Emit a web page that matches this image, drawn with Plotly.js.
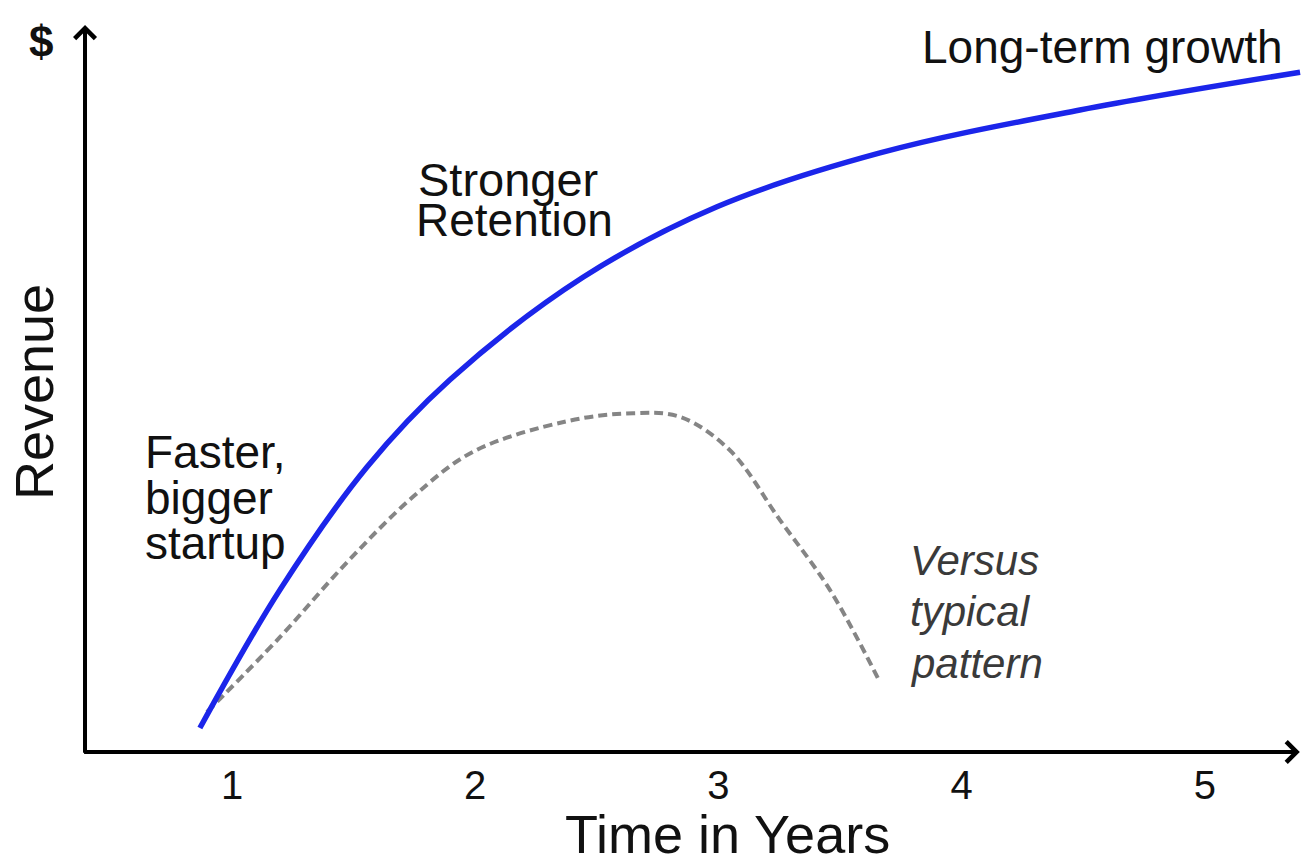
<!DOCTYPE html>
<html>
<head>
<meta charset="utf-8">
<script src="https://cdn.plot.ly/plotly-3.0.1.min.js"></script>
<style>html,body{margin:0;padding:0;background:#fff;}#chart{width:1304px;height:868px;}</style>
</head>
<body>
<div id="chart"></div>
<script>
// Years (x) and revenue (arbitrary units, y)
const strongYears = [0.868, 1.197, 1.555, 1.896, 2.443, 2.994, 3.664, 4.486, 5.391];
const strongRevenue = [3.3, 22.3, 39.2, 51.2, 65.3, 75.0, 82.4, 88.3, 93.5];

const typicalYears = [0.897, 1.197, 1.473, 1.744, 1.991, 2.377, 2.649, 2.842, 3.047, 3.253, 3.458, 3.664];
const typicalRevenue = [5.5, 15.8, 26.1, 35.1, 41.3, 45.5, 46.6, 46.1, 41.5, 31.9, 22.3, 9.6];

const tickYears = [1, 2, 3, 4, 5];
const tickLabels = ["1", "2", "3", "4", "5"];

const FONT = "Liberation Sans, Arial, Helvetica, sans-serif";
const axisX0 = 0.3957, axisXEnd = 5.39, axisY0 = 0, axisYEnd = 100;

const traces = [
  {x: typicalYears, y: typicalRevenue, mode: "lines", line: {color: "#858585", width: 4, dash: "9px,5px", shape: "spline", smoothing: 1}, hoverinfo: "skip"},
  {x: strongYears, y: strongRevenue, mode: "lines", line: {color: "#1b25ea", width: 5.5, shape: "spline", smoothing: 1}, hoverinfo: "skip"}
];

function txt(text, x, y, size, color) {
  return {text: text, x: x, y: y, xref: "x", yref: "y", showarrow: false,
    xanchor: "left", yanchor: "middle", font: {family: FONT, size: size, color: color || "#111"}};
}

const annotations = [
  // axis arrows
  {x: axisXEnd, y: axisY0, ax: axisX0 - 0.01, ay: axisY0, xref: "x", yref: "y", axref: "x", ayref: "y",
   showarrow: true, arrowhead: 4, arrowsize: 1, arrowwidth: 4, arrowcolor: "#000", text: ""},
  {x: axisX0, y: axisYEnd, ax: axisX0, ay: axisY0 - 0.3, xref: "x", yref: "y", axref: "x", ayref: "y",
   showarrow: true, arrowhead: 4, arrowsize: 1, arrowwidth: 4, arrowcolor: "#000", text: ""},
  // labels
  {text: "<b>$</b>", xref: "paper", yref: "paper", x: -0.032, y: 0.971, showarrow: false, xanchor: "center", yanchor: "middle",
   font: {family: FONT, size: 44, color: "#111"}},
  {text: "Revenue", xref: "paper", yref: "paper", x: -0.0376, y: 0.496, textangle: -90, showarrow: false,
   xanchor: "center", yanchor: "middle", font: {family: FONT, size: 54, color: "#111"}},
  {text: "Time in Years", xref: "paper", yref: "paper", x: 0.530, y: -0.103, showarrow: false,
   xanchor: "center", yanchor: "middle", font: {family: FONT, size: 54, color: "#111"}},
  txt("Long-term growth", 3.828, 97.0, 46),
  txt("Stronger", 1.756, 78.7, 47),
  txt("Retention", 1.748, 73.2, 46),
  txt("Faster,", 0.634, 41.3, 46),
  txt("bigger", 0.634, 35.0, 46),
  txt("startup", 0.634, 28.8, 46),
  txt("<i>Versus</i>", 3.779, 26.4, 42, "#3a3a3a"),
  txt("<i>typical</i>", 3.779, 19.3, 42, "#3a3a3a"),
  txt("<i>pattern</i>", 3.779, 12.2, 42, "#3a3a3a")
];

const layout = {
  width: 1304, height: 868,
  margin: {l: 80, r: 2, t: 20, b: 110, pad: 0},
  paper_bgcolor: "#fff", plot_bgcolor: "#fff",
  showlegend: false,
  xaxis: {range: [0.3751, 5.399], showgrid: false, zeroline: false, showline: false, ticks: "",
          tickvals: tickYears, ticktext: tickLabels, tickfont: {family: FONT, size: 40, color: "#111"}, fixedrange: true},
  yaxis: {range: [-0.825, 100.69], showgrid: false, zeroline: false, showline: false, ticks: "",
          showticklabels: false, fixedrange: true},
  annotations: annotations
};

Plotly.newPlot("chart", traces, layout, {displayModeBar: false, staticPlot: true});
</script>
</body>
</html>
